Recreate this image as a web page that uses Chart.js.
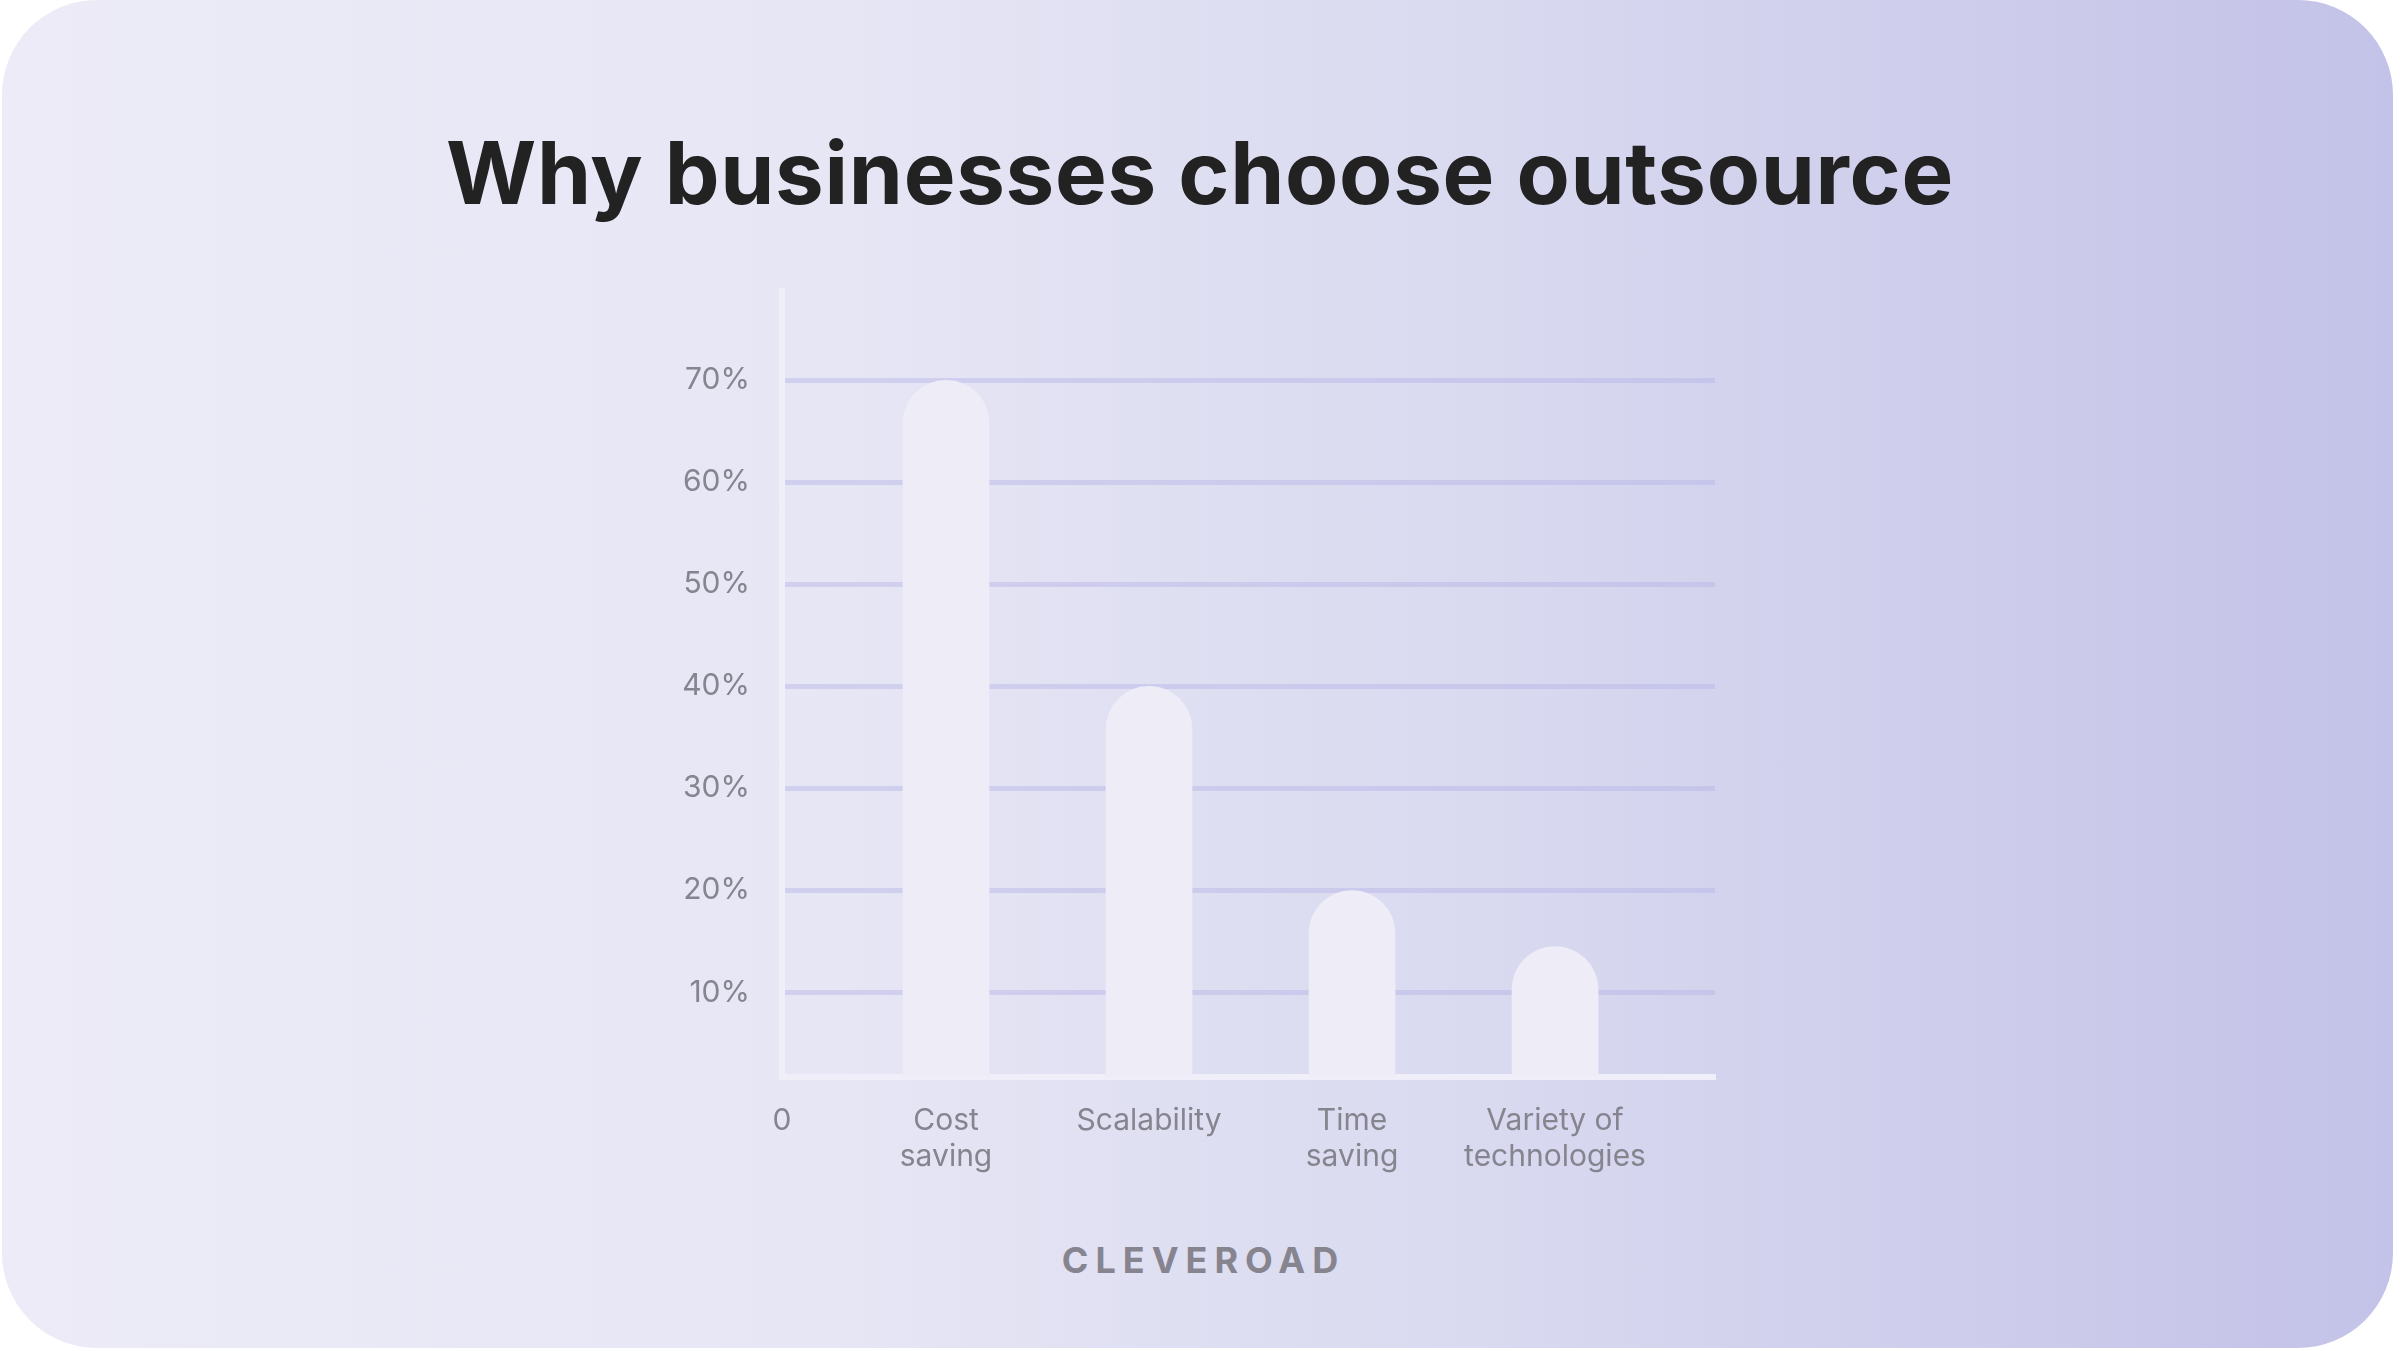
<!DOCTYPE html>
<html>
<head>
<meta charset="utf-8">
<script src="https://cdn.jsdelivr.net/npm/chart.js@4"></script>
<style>
  html, body { margin: 0; padding: 0; background: #ffffff; }
  #page { position: relative; width: 2400px; height: 1351px; overflow: hidden; }
  #card {
    position: absolute; left: 2px; top: 0; width: 2391px; height: 1348px;
    border-radius: 95px;
    background: linear-gradient(90deg, #ecebf7 0%, #e6e6f5 35%, #d9d9f0 62%, #c3c2e8 100%);
  }
  #title {
    position: absolute; left: 0; top: 129px; width: 2400px; margin: 0;
    text-align: center; font-family: Inter, sans-serif; font-weight: 700;
    font-size: 87px; line-height: 1; color: #222222; letter-spacing: 0.7px;
  }
  #brand {
    position: absolute; left: 0; top: 1242px; width: 2400px;
    text-align: center; font-family: Inter, sans-serif; font-weight: 700;
    font-size: 36px; line-height: 1; color: #85848f;
    letter-spacing: 7px; text-indent: 7px;
  }
  #chart { position: absolute; left: 0; top: 0; }
</style>
</head>
<body>
<div id="page">
  <div id="card"></div>
  <h1 id="title">Why businesses choose outsource</h1>
  <div id="brand">CLEVEROAD</div>
  <canvas id="chart" width="2400" height="1351"></canvas>
</div>
<script>

// Data

const categories = [['Cost', 'saving'], ['Scalability'], ['Time', 'saving'], ['Variety of', 'technologies']];
const shares = [70, 40, 20, 14.5];
const yTicks = [10, 20, 30, 40, 50, 60, 70];
const originLabel = '0';

// axis ranges
const yMin = 1.72;
const yMax = 78.75;
const xMin = 0.192;
const xMax = 4.788;

const textGrey = '#85848f';
const tickFont = { family: 'Inter, sans-serif', size: 30, weight: '400' };

const points = shares.map((v, i) => ({ x: i + 1, y: v }));

new Chart(document.getElementById('chart'),
{
  type: 'bar',
  data:
  {
    datasets:
    [
      {
        data: points,
        base: yMin,
        backgroundColor: '#edecf7',
        borderWidth: 0,
        barThickness: 86,
        borderRadius: 43,
        borderSkipped: 'start'
      }
    ]
  },
  options:
  {
    responsive: false,
    devicePixelRatio: 1,
    animation: false,
    layout:
    {
      padding: { left: 642, right: 685, top: 291, bottom: 134 }
    },
    plugins:
    {
      legend: { display: false },
      tooltip: { enabled: false }
    },
    scales:
    {
      x:
      {
        type: 'linear',
        offset: false,
        min: xMin,
        max: xMax,
        afterBuildTicks: (scale) =>
        {
          scale.ticks = [xMin].concat(categories.map((c, i) => i + 1)).map(v => ({ value: v }));
        },
        afterFit: (scale) => { scale.height = 140; },
        grid: { display: true, drawOnChartArea: false, drawTicks: false },
        border: { display: true, color: '#efeef9', width: 6 },
        ticks:
        {
          autoSkip: false,
          maxRotation: 0,
          padding: 26,
          color: textGrey,
          font: tickFont,
          callback: (value) => value === xMin ? originLabel : categories[Math.round(value) - 1]
        }
      },
      y:
      {
        min: yMin,
        max: yMax,
        afterBuildTicks: (scale) =>
        {
          scale.ticks = yTicks.map(v => ({ value: v }));
        },
        afterFit: (scale) => { scale.width = 140; },
        grid: { color: 'rgba(178, 176, 228, 0.42)', lineWidth: 5, drawTicks: false },
        border: { display: true, color: '#efeef9', width: 6 },
        ticks:
        {
          padding: 32,
          color: textGrey,
          font: tickFont,
          callback: (value) => value + '%'
        }
      }
    }
  }
});
</script>
</body>
</html>
